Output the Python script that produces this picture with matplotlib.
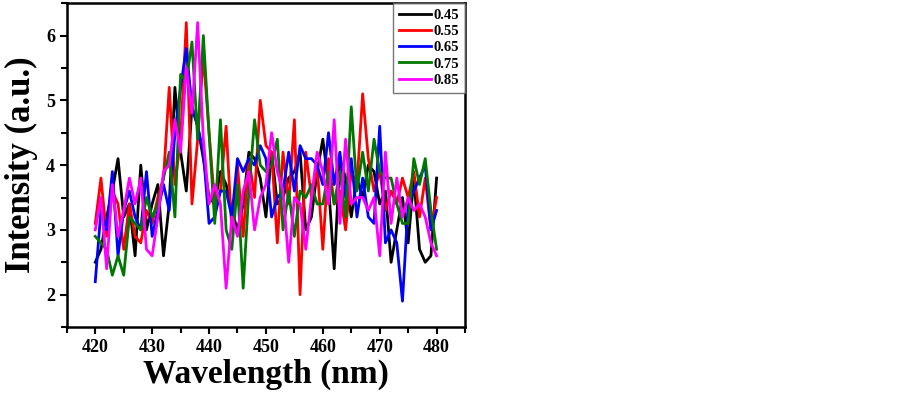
import matplotlib
matplotlib.use("Agg")
import matplotlib.pyplot as plt
import numpy as np
from matplotlib.ticker import MultipleLocator

wavelength = list(range(420, 481))

s045 = [2.5, 2.7, 3.2, 3.6, 4.1, 3.2, 3.4, 2.6, 4.0, 3.0, 3.4, 3.7, 2.6, 3.4, 5.2, 4.2, 3.6, 4.9, 4.6, 4.1,
        3.5, 3.4, 3.9, 3.7, 3.3, 3.0, 3.4, 4.2, 4.1, 3.8, 3.2, 4.2, 3.4, 3.5, 3.8, 3.9, 4.2, 3.0, 3.2, 3.9,
        4.4, 3.7, 2.4, 4.1, 3.8, 3.2, 3.8, 3.5, 4.0, 3.9, 3.4, 3.6, 2.5, 3.0, 3.5, 2.8, 3.8, 2.7, 2.5, 2.6, 3.8]
s055 = [3.1, 3.8, 2.9, 3.6, 3.4, 2.7, 3.4, 2.9, 2.8, 3.3, 3.1, 3.5, 3.8, 5.2, 3.7, 4.4, 6.2, 3.4, 4.4, 5.7,
        4.5, 3.4, 3.6, 4.6, 3.0, 4.0, 2.9, 4.1, 3.5, 5.0, 4.3, 4.2, 2.8, 4.2, 3.4, 4.7, 2.0, 4.2, 3.5, 4.0,
        2.7, 4.1, 3.4, 3.6, 3.0, 3.9, 3.7, 5.1, 4.1, 3.6, 3.9, 3.3, 3.6, 3.4, 3.8, 3.5, 3.9, 3.2, 3.8, 3.0, 3.5]
s065 = [2.2, 3.3, 3.0, 3.9, 2.6, 3.3, 3.6, 3.2, 3.0, 3.9, 2.9, 3.3, 3.7, 3.3, 4.5, 5.2, 5.8, 4.9, 4.6, 4.2,
        3.1, 3.2, 3.6, 3.6, 3.2, 4.1, 3.9, 4.1, 4.0, 4.3, 4.1, 3.2, 3.5, 3.6, 4.2, 3.6, 4.3, 4.1, 4.1, 4.0,
        3.7, 4.5, 3.7, 4.2, 3.5, 4.1, 3.2, 3.8, 3.2, 3.1, 4.6, 2.8, 3.0, 2.8, 1.9, 3.4, 3.6, 3.8, 4.0, 3.0, 3.3]
s075 = [2.9, 2.8, 2.7, 2.3, 2.6, 2.3, 3.2, 3.1, 3.0, 3.5, 3.2, 3.4, 3.8, 4.2, 3.2, 5.4, 5.3, 5.9, 4.4, 6.0,
        4.5, 3.1, 4.7, 3.0, 2.7, 3.7, 2.1, 3.6, 4.7, 4.0, 3.9, 4.0, 4.4, 3.0, 3.6, 2.9, 3.6, 3.5, 3.7, 3.4,
        3.4, 3.9, 3.4, 3.9, 3.2, 4.9, 3.6, 4.2, 3.6, 4.4, 3.9, 3.8, 3.8, 3.4, 3.1, 3.1, 4.1, 3.7, 4.1, 3.3, 2.7]
s085 = [3.0, 3.5, 2.4, 3.7, 2.9, 3.3, 3.8, 3.4, 3.8, 2.7, 2.6, 3.2, 3.9, 4.0, 4.7, 4.2, 5.5, 4.8, 6.2, 4.4,
        3.4, 3.7, 3.4, 2.1, 3.2, 2.9, 3.6, 3.9, 3.0, 3.5, 3.7, 4.5, 3.9, 3.6, 2.5, 3.5, 3.4, 2.7, 3.5, 4.2,
        3.9, 3.4, 4.7, 3.1, 4.4, 3.4, 3.5, 3.5, 3.3, 3.5, 2.6, 4.2, 3.1, 3.8, 3.2, 3.5, 3.3, 3.4, 3.2, 2.8, 2.6]

series_labels = ["0.45", "0.55", "0.65", "0.75", "0.85"]
series_colors = ["#000000", "#ff0000", "#0000ff", "#007700", "#ff00ff"]
x_ticks = [420, 430, 440, 450, 460, 470, 480]
y_ticks = [2, 3, 4, 5, 6]

plt.rcParams['font.family'] = ['Liberation Serif', 'DejaVu Serif']
plt.rcParams['font.weight'] = 'bold'

fig = plt.figure(figsize=(9.03, 3.95), dpi=100)
ax = fig.add_axes([0.074, 0.172, 0.441, 0.820])

for vals, lab, col in zip([s045, s055, s065, s075, s085], series_labels, series_colors):
    ax.plot(wavelength, vals, color=col, lw=2.0, label=lab)

ax.set_xlim(415, 485)
ax.set_ylim(1.5, 6.5)
ax.set_xticks(x_ticks)
ax.set_yticks(y_ticks)
ax.xaxis.set_minor_locator(MultipleLocator(5))
ax.yaxis.set_minor_locator(MultipleLocator(0.5))
ax.tick_params(which='both', direction='out', width=1.5, labelsize=13)
ax.tick_params(which='major', length=5)
ax.tick_params(which='minor', length=4)
for lbl in ax.get_xticklabels() + ax.get_yticklabels():
    lbl.set_fontweight('bold')
for sp in ax.spines.values():
    sp.set_linewidth(1.8)

ax.set_xlabel("Wavelength (nm)", fontsize=24, fontweight='bold', labelpad=2)
ax.set_ylabel("Intensity (a.u.)", fontsize=25, fontweight='bold', labelpad=6)

leg = ax.legend(loc='upper right', fontsize=10.5, frameon=True, fancybox=False,
                handlelength=2.2, handletextpad=0.2, borderaxespad=0.0,
                labelspacing=0.2, borderpad=0.4)
leg.get_frame().set_edgecolor('#555555')
leg.get_frame().set_linewidth(1.0)
for t in leg.get_texts():
    t.set_fontweight('bold')

fig.savefig("out.png", dpi=100)
